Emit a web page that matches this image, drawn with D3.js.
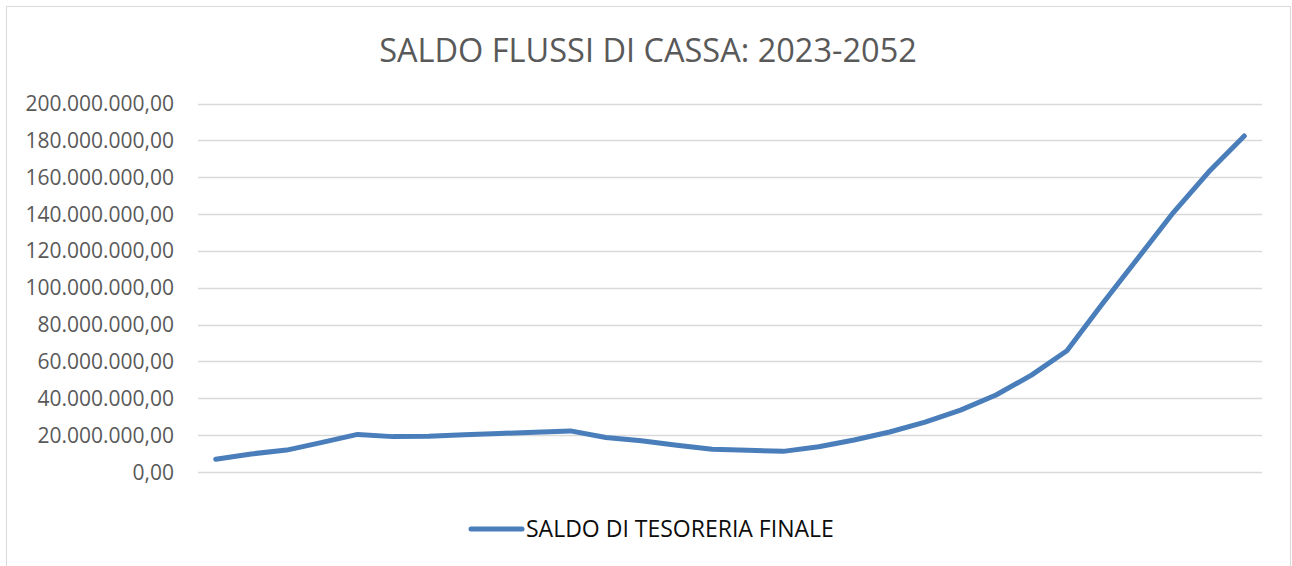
<!DOCTYPE html>
<html><head><meta charset="utf-8">
<script src="https://cdn.jsdelivr.net/npm/d3@7"></script>
<style>body{margin:0;background:#fff;} svg{display:block;}</style>
</head><body>
<svg id="c" width="1292" height="566"></svg>
<script>
const years = d3.range(2023, 2053).map(String);
const saldo = [6.9e6, 9.8e6, 11.9e6, 16.1e6, 20.4e6, 19.2e6, 19.4e6, 20.2e6, 20.9e6, 21.6e6,
  22.3e6, 18.7e6, 17.0e6, 14.5e6, 12.3e6, 11.8e6, 11.2e6, 13.7e6, 17.4e6, 21.7e6,
  27.1e6, 33.6e6, 41.8e6, 52.6e6, 65.8e6, 91.3e6, 116e6, 140.8e6, 162.9e6, 182.4e6];
const yTicks = d3.range(0, 200000001, 20000000);
const title = "SALDO FLUSSI DI CASSA: 2023-2052";
const seriesName = "SALDO DI TESORERIA FINALE";

const svg = d3.select("#c");
const font = "'Open Sans', 'Liberation Sans', sans-serif";
svg.append("rect").attr("x", 6.5).attr("y", 6.5).attr("width", 1284).attr("height", 580)
  .attr("fill", "#fff").attr("stroke", "#d9d9d9");

const x = d3.scaleBand().domain(years).range([198, 1262]);
const y = d3.scaleLinear().domain([0, 200000000]).range([472, 103.5]);

const fmt = v => d3.format(",.2f")(v).replace(/,/g, "#").replace(".", ",").replace(/#/g, ".");

svg.append("g").selectAll("line").data(yTicks).join("line")
  .attr("x1", 198).attr("x2", 1262)
  .attr("y1", d => Math.round(y(d)) + 0.5).attr("y2", d => Math.round(y(d)) + 0.5)
  .attr("stroke", "#d9d9d9").attr("stroke-width", 1.5);

svg.append("g").selectAll("text").data(yTicks).join("text")
  .attr("x", 174).attr("y", d => y(d)).attr("dy", "0.36em")
  .attr("text-anchor", "end").attr("fill", "#595959")
  .style("font-family", font).style("font-size", "21px")
  .text(fmt);

svg.append("text").attr("x", 648).attr("y", 62).attr("text-anchor", "middle")
  .attr("fill", "#595959").style("font-family", font).style("font-size", "32.5px")
  .text(title);

const line = d3.line().x((d, i) => x(years[i]) + x.bandwidth() / 2).y(d => y(d));
svg.append("path").datum(saldo).attr("d", line).attr("fill", "none")
  .attr("stroke", "#4a7ebb").attr("stroke-width", 5).attr("stroke-linecap", "round")
  .attr("stroke-linejoin", "round");

svg.append("line").attr("x1", 471).attr("x2", 522).attr("y1", 529).attr("y2", 529)
  .attr("stroke", "#4a7ebb").attr("stroke-width", 5).attr("stroke-linecap", "round");
svg.append("text").attr("x", 526).attr("y", 529).attr("dy", "0.36em")
  .attr("fill", "#0d0d0d").style("font-family", font).style("font-size", "23px")
  .text(seriesName);
</script>
</body></html>
